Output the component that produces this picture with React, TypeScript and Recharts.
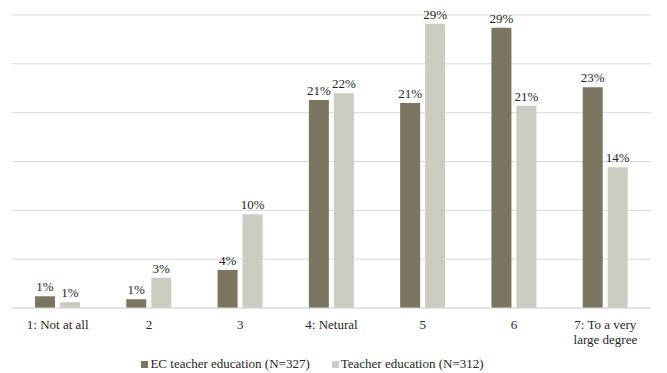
import React from "react";
import { BarChart, Bar, XAxis, YAxis, CartesianGrid, LabelList, Legend } from "recharts";

const categories = ["1: Not at all", "2", "3", "4: Netural", "5", "6", "7: To a very large degree"];
const ecValues = [1.2, 0.9, 3.9, 21.3, 21.0, 28.7, 22.6];
const teacherValues = [0.6, 3.1, 9.6, 22.0, 29.1, 20.7, 14.4];
const seriesNames = ["EC teacher education (N=327)", "Teacher education (N=312)"];
const yTicks = [0, 5, 10, 15, 20, 25, 30];

const data = categories.map((c, i) => ({ name: c, ec: ecValues[i], teacher: teacherValues[i] }));

const FONT = "Liberation Serif";
const DARK = "#7a7662";
const LIGHT = "#cdccc3";

const Tick = (props: any) => {
  const { x, y, payload } = props;
  const label: string = payload.value;
  const lines = label === "7: To a very large degree" ? ["7: To a very", "large degree"] : [label];
  return (
    <g transform={`translate(${x},${y})`}>
      {lines.map((l, i) => (
        <text key={i} x={0} y={13 + i * 15} textAnchor="middle" fill="#262626" style={{ fontSize: 13, fontFamily: FONT }}>
          {l}
        </text>
      ))}
    </g>
  );
};

const LegendContent = () => (
  <div style={{ display: "flex", justifyContent: "center", fontFamily: FONT, fontSize: 13, color: "#262626", lineHeight: "20px", paddingTop: 3, paddingRight: 38 }}>
    {seriesNames.map((n, i) => (
      <div key={n} style={{ display: "flex", alignItems: "center", marginLeft: i === 0 ? 0 : 22 }}>
        <span style={{ display: "inline-block", width: 7, height: 7, background: i === 0 ? DARK : LIGHT, marginRight: 2 }} />
        <span>{n}</span>
      </div>
    ))}
  </div>
);

const fmt = (v: any) => `${Math.round(Number(v))}%`;

export default function App() {
  return (
    <div style={{ position: "absolute", left: 0, top: 0, width: 667, height: 373, background: "#fff" }}>
      <BarChart
        width={667}
        height={373}
        data={data}
        margin={{ top: 15, right: 16, left: 12, bottom: 2 }}
        barGap={5}
        barSize={20}
      >
        <CartesianGrid vertical={false} stroke="#d9d9d9" />
        <XAxis
          dataKey="name"
          tick={<Tick />}
          tickLine={false}
          axisLine={{ stroke: "#d9d9d9" }}
          height={43}
          interval={0}
        />
        <YAxis hide domain={[0, 30]} ticks={yTicks} />
        <Legend verticalAlign="bottom" height={20} content={<LegendContent />} />
        <Bar dataKey="ec" name={seriesNames[0]} fill={DARK} isAnimationActive={false}>
          <LabelList dataKey="ec" position="top" offset={5} formatter={fmt} fill="#262626" style={{ fontSize: 13, fontFamily: FONT }} />
        </Bar>
        <Bar dataKey="teacher" name={seriesNames[1]} fill={LIGHT} isAnimationActive={false}>
          <LabelList dataKey="teacher" position="top" offset={5} formatter={fmt} fill="#262626" style={{ fontSize: 13, fontFamily: FONT }} />
        </Bar>
      </BarChart>
    </div>
  );
}
